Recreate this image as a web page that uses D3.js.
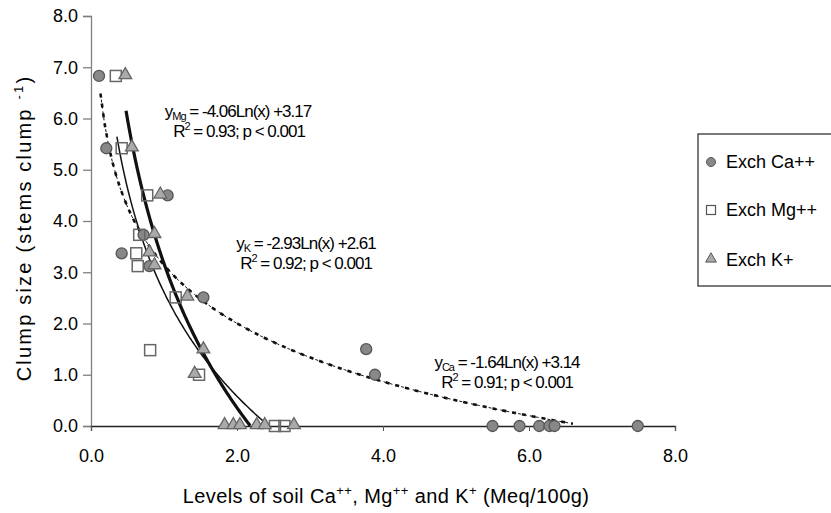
<!DOCTYPE html>
<head>
    <meta charset="utf-8">
    <script src="https://d3js.org/d3.v7.min.js"></script>
    <style>
      body { margin: 0; background: white; }
      text { font-family: "Liberation Sans", Arial, sans-serif; fill: #000; }
      .ticklabel { font-size: 18px; }
      .axistitle { font-size: 20px; }
      .eq { font-size: 17px; letter-spacing: -1px; }
      .legendtext { font-size: 18px; }
    </style>
</head>
<body>
    <script>
        // data
        var caX = [0.11, 0.21, 1.05, 0.72, 0.42, 0.80, 1.54, 3.77, 3.89, 5.50, 5.87, 6.14, 6.28, 6.35, 7.49]
        var caY = [6.83, 5.42, 4.50, 3.73, 3.37, 3.12, 2.51, 1.50, 1.00, 0, 0, 0, 0, 0, 0]
        var mgX = [0.34, 0.42, 0.77, 0.66, 0.62, 0.64, 1.16, 0.81, 1.48, 2.52, 2.65]
        var mgY = [6.83, 5.42, 4.50, 3.73, 3.37, 3.12, 2.51, 1.48, 1.00, 0, 0]
        var kX = [0.47, 0.56, 0.95, 0.87, 0.80, 0.87, 1.32, 1.54, 1.42, 1.83, 1.95, 2.04, 2.27, 2.38, 2.78]
        var kY = [6.83, 5.42, 4.50, 3.73, 3.37, 3.12, 2.51, 1.48, 1.00, 0, 0, 0, 0, 0, 0]

        // log fits y = a*ln(x) + b, drawn over [from, to]
        var fitNames = ["Ca", "Mg", "K"]
        var fitA = [-1.64, -4.06, -2.93]
        var fitB = [3.14, 3.17, 2.61]
        var fitFrom = [0.13, 0.48, 0.355]
        var fitTo = [6.6, 2.18, 2.44]
        var fitR2 = ["0.91", "0.93", "0.92"]

        var yTicks = [0, 1, 2, 3, 4, 5, 6, 7, 8]
        var xTicks = [0, 2, 4, 6, 8]
        var legendLabels = ["Exch Ca++", "Exch Mg++", "Exch K+"]

        var svg_w = 831, svg_h = 513
        var svg = d3.select("body").append("svg")
          .attr("width", svg_w)
          .attr("height", svg_h)

        var x = d3.scaleLinear().domain([0, 8]).range([91, 675])
        var y = d3.scaleLinear().domain([0, 8]).range([426, 16])

        // axes
        var yAxis = svg.append("g")
          .attr("transform", "translate(" + x(0) + ",0)")
          .call(d3.axisLeft(y).tickValues(yTicks).tickFormat(function(d){ return d.toFixed(1) }).tickSize(8).tickPadding(5))
        yAxis.select(".domain").attr("stroke", "#808080").attr("stroke-width", 1.3)
        yAxis.selectAll("line").attr("stroke", "#808080").attr("stroke-width", 1.3)
        yAxis.selectAll("text").attr("class", "ticklabel").attr("font-size", null).attr("font-family", null).attr("fill", "#111")

        var xAxis = svg.append("g")
          .attr("transform", "translate(0," + y(0) + ")")
          .call(d3.axisBottom(x).tickValues(xTicks).tickFormat(function(d){ return d.toFixed(1) }).tickSize(5).tickPadding(18))
        xAxis.select(".domain").attr("stroke", "#222").attr("stroke-width", 1.3)
        xAxis.selectAll("line").attr("stroke", "#555")
        xAxis.selectAll("text").attr("class", "ticklabel").attr("font-size", null).attr("font-family", null).attr("fill", "#111")

        // axis titles
        var ytitle = svg.append("text")
          .attr("class", "axistitle")
          .attr("transform", "translate(31," + 228 + ") rotate(-90)")
          .attr("text-anchor", "middle")
          .attr("letter-spacing", "2.2px")
        ytitle.append("tspan").text("Clump size (stems clump ")
        ytitle.append("tspan").text(" -1").attr("font-size", "13px").attr("dy", -8)
        ytitle.append("tspan").text(")").attr("dy", 8)

        var xtitle = svg.append("text")
          .attr("class", "axistitle")
          .attr("x", 386)
          .attr("y", 503)
          .attr("text-anchor", "middle")
          .attr("letter-spacing", "0.4px")
        xtitle.append("tspan").text("Levels of soil Ca")
        xtitle.append("tspan").text("++").attr("font-size", "13px").attr("dy", -8)
        xtitle.append("tspan").text(", Mg").attr("dy", 8)
        xtitle.append("tspan").text("++").attr("font-size", "13px").attr("dy", -8)
        xtitle.append("tspan").text(" and K").attr("dy", 8)
        xtitle.append("tspan").text("+").attr("font-size", "13px").attr("dy", -8)
        xtitle.append("tspan").text(" (Meq/100g)").attr("dy", 8)

        // fitted curves
        var line = d3.line().x(function(d){ return x(d[0]) }).y(function(d){ return y(d[1]) })
        function curve(i){
          var pts = []
          var n = 120
          for (var j = 0; j <= n; j++){
            var xv = fitFrom[i] + (fitTo[i] - fitFrom[i]) * j / n
            pts.push([xv, Math.max(0, fitA[i] * Math.log(xv) + fitB[i])])
          }
          return pts
        }
        var curves = svg.append("g")
        curves.append("path").attr("d", line(curve(0)))
          .attr("fill", "none").attr("stroke", "#111").attr("stroke-width", 1)
          .attr("stroke-dasharray", "3,3")
        curves.append("path").attr("d", line(curve(0)))
          .attr("fill", "none").attr("stroke", "#111").attr("stroke-width", 2.6)
          .attr("stroke-dasharray", "4,6")
        curves.append("path").attr("d", line(curve(2)))
          .attr("fill", "none").attr("stroke", "#111").attr("stroke-width", 1.5)
        curves.append("path").attr("d", line(curve(1)))
          .attr("fill", "none").attr("stroke", "#111").attr("stroke-width", 3.2)

        // markers
        var pts = svg.append("g")
        pts.selectAll(".ca").data(d3.range(caX.length)).enter().append("circle")
          .attr("cx", function(i){ return x(caX[i]) })
          .attr("cy", function(i){ return y(caY[i]) })
          .attr("r", 5.5)
          .attr("fill", "#888")
          .attr("stroke", "#555").attr("stroke-width", 1.3)
        pts.selectAll(".mg").data(d3.range(mgX.length)).enter().append("rect")
          .attr("x", function(i){ return x(mgX[i]) - 5.5 })
          .attr("y", function(i){ return y(mgY[i]) - 5.5 })
          .attr("width", 11).attr("height", 11)
          .attr("fill", "none")
          .attr("stroke", "#666").attr("stroke-width", 1.5)
        var tri = d3.symbol().type(d3.symbolTriangle).size(70)
        pts.selectAll(".k").data(d3.range(kX.length)).enter().append("path")
          .attr("d", tri)
          .attr("transform", function(i){ return "translate(" + x(kX[i]) + "," + (y(kY[i]) - 1) + ")" })
          .attr("fill", "#aaa")
          .attr("stroke", "#666").attr("stroke-width", 1.3)

        // equations
        var eqPos = [[507, 362], [238, 111], [306, 243]]
        var r2Pos = [[507, 382], [239, 131], [306, 263]]
        fitNames.forEach(function(nm, i){
          var t = svg.append("text").attr("class", "eq")
            .attr("x", eqPos[i][0]).attr("y", eqPos[i][1] + 6).attr("text-anchor", "middle")
          t.append("tspan").text("y")
          t.append("tspan").text(nm).attr("font-size", "11px").attr("dy", 3)
          t.append("tspan").text(" = " + fitA[i].toFixed(2) + "Ln(x) +" + fitB[i].toFixed(2)).attr("dy", -3)
          var r = svg.append("text").attr("class", "eq")
            .attr("x", r2Pos[i][0]).attr("y", r2Pos[i][1] + 6).attr("text-anchor", "middle")
          r.append("tspan").text("R")
          r.append("tspan").text("2").attr("font-size", "11px").attr("dy", -7)
          r.append("tspan").text(" = " + fitR2[i] + "; p < 0.001").attr("dy", 7)
        })

        // legend
        var legend = svg.append("g")
        legend.append("rect")
          .attr("x", 698).attr("y", 134).attr("width", 140).attr("height", 152)
          .attr("fill", "white").attr("stroke", "#222").attr("stroke-width", 1.2)
        var legY = [162, 210, 260]
        legend.append("circle").attr("cx", 711).attr("cy", legY[0]).attr("r", 4.5)
          .attr("fill", "#888").attr("stroke", "#555")
        legend.append("rect").attr("x", 706.5).attr("y", legY[1] - 4.5).attr("width", 9).attr("height", 9)
          .attr("fill", "white").attr("stroke", "#555").attr("stroke-width", 1.2)
        legend.append("path").attr("d", d3.symbol().type(d3.symbolTriangle).size(50))
          .attr("transform", "translate(711," + (legY[2] - 1) + ")")
          .attr("fill", "#aaa").attr("stroke", "#555")
        legend.selectAll(".legendtext").data(legendLabels).enter().append("text")
          .attr("class", "legendtext")
          .attr("x", 726)
          .attr("y", function(d, i){ return legY[i] + 6 })
          .text(function(d){ return d })
    </script>
</body>
